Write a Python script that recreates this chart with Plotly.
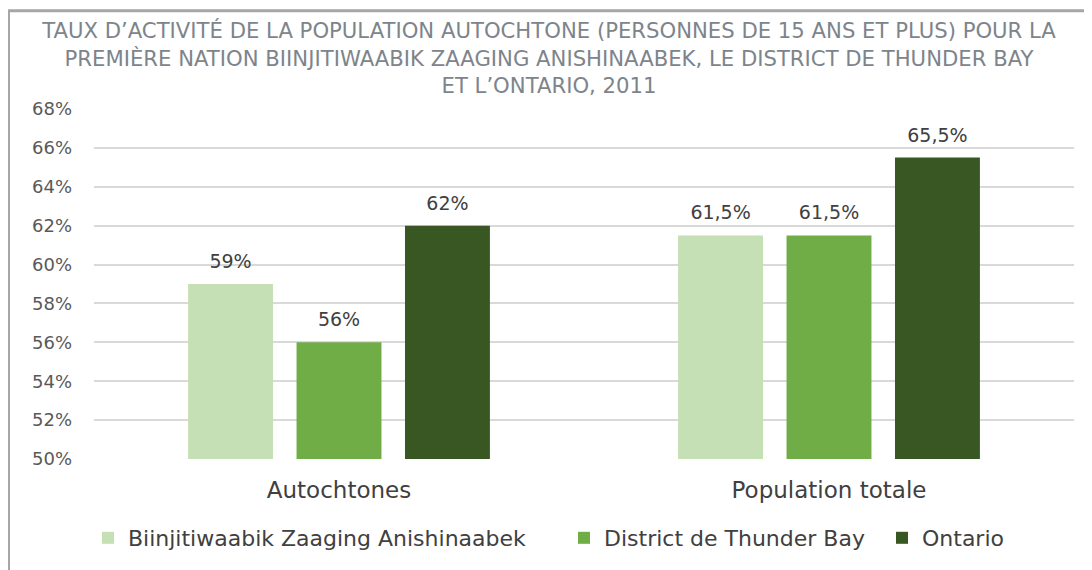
import plotly.graph_objects as go

categories = ["Autochtones", "Population totale"]
series_names = ["Biinjitiwaabik Zaaging Anishinaabek", "District de Thunder Bay", "Ontario"]
series_values = [
    [59, 61.5],
    [56, 61.5],
    [62, 65.5],
]
colors = ["#c5e0b4", "#70ad47", "#385723"]
tick_vals = [50, 52, 54, 56, 58, 60, 62, 64, 66, 68]

def fmt(v):
    s = f"{v:g}".replace(".", ",")
    return "<span style='font-size:19px'>" + s + "%</span><br> "

FONT = "DejaVu Sans"
W, H = 1092, 570
L, R, T, B = 86, 26, 101, 119
pw, ph = W - L - R, H - T - B

def px(x):
    return (x - L) / pw

def py(y):
    return (H - B - y) / ph

legend_names = ["legend", "legend2", "legend3"]
legend_left = [80, 556, 874]

fig = go.Figure()
for name, vals, col, lg in zip(series_names, series_values, colors, legend_names):
    fig.add_trace(go.Bar(
        x=categories, y=vals, name=name, marker=dict(color=col, line=dict(width=0)),
        text=[fmt(v) for v in vals], textposition="outside", cliponaxis=False,
        textfont=dict(family=FONT, size=8.5, color="#404040"), legend=lg,
    ))

leg_common = dict(orientation="h", xanchor="left", y=py(530), yanchor="middle",
                  font=dict(family=FONT, size=22, color="#404040"), itemwidth=30,
                  bgcolor="rgba(0,0,0,0)", borderwidth=0)

fig.update_layout(
    width=W, height=H,
    margin=dict(l=L, r=R, t=T, b=B, pad=0, autoexpand=False),
    paper_bgcolor="white", plot_bgcolor="white",
    barmode="group", bargap=0.336, bargroupgap=0.217,
    title=dict(
        text="TAUX D’ACTIVITÉ DE LA POPULATION AUTOCHTONE (PERSONNES DE 15 ANS ET PLUS) POUR LA<br>PREMIÈRE NATION BIINJITIWAABIK ZAAGING ANISHINAABEK, LE DISTRICT DE THUNDER BAY<br>ET L’ONTARIO, 2011",
        x=541 / W, xref="container", xanchor="center", y=(H - 30) / H, yanchor="top",
        font=dict(family=FONT, size=21.2, color="#7d848b"),
    ),
    yaxis=dict(range=[50, 68], tickvals=tick_vals, ticktext=[f"{v}%" for v in tick_vals],
               showgrid=True, gridcolor="#d9d9d9", gridwidth=1.5,
               zeroline=False, showline=False, ticks="", ticklen=0, ticklabelstandoff=21,
               tickfont=dict(family=FONT, size=18, color="#595959")),
    xaxis=dict(showline=False, ticks="", ticklabelstandoff=15,
               tickfont=dict(family=FONT, size=23, color="#404040")),
    legend=dict(x=px(legend_left[0]), **leg_common),
    legend2=dict(x=px(legend_left[1]), **leg_common),
    legend3=dict(x=px(legend_left[2]), **leg_common),
    showlegend=True,
    shapes=[
        dict(type="line", xref="paper", yref="paper", x0=px(0), x1=px(W), y0=py(2.7), y1=py(2.7),
             line=dict(color="#a6a6a6", width=3)),
        dict(type="line", xref="paper", yref="paper", x0=px(0.5), x1=px(0.5), y0=py(2.7), y1=py(H),
             line=dict(color="#a6a6a6", width=3)),
    ],
)

fig.write_html("out.html")
